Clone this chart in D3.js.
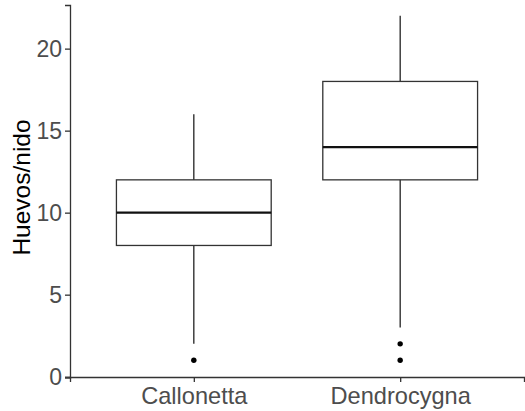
<!DOCTYPE html>
<html>
<head>
<meta charset="utf-8">
<script src="https://cdn.jsdelivr.net/npm/d3@7"></script>
<style>
  body { margin: 0; background: #fff; }
  svg { display: block; font-family: "Liberation Sans", Arial, sans-serif; }
</style>
</head>
<body>
<div id="chart"></div>
<script>
// data
const categories = ["Callonetta", "Dendrocygna"];
const lowerWhisker = [2, 3];
const q1 = [8, 12];
const median = [10, 14];
const q3 = [12, 18];
const upperWhisker = [16, 22];
const outliers = [[1], [2, 1]];
const yTicks = [0, 5, 10, 15, 20];
const yTitle = "Huevos/nido";

const width = 525, height = 411;
const margin = {top: 5, right: 1, bottom: 34, left: 70};

const svg = d3.select("#chart").append("svg")
    .attr("width", width)
    .attr("height", height);

const x = d3.scalePoint()
    .domain(categories)
    .range([margin.left, width - margin.right])
    .padding(0.6);
const boxWidth = x.step() * 0.75;

const y = d3.scaleLinear()
    .domain([-0.05, 22.66])
    .range([height - margin.bottom + 0.5, margin.top]);

const stats = categories.map((c, i) => ({
    key: c, lo: lowerWhisker[i], q1: q1[i], med: median[i], q3: q3[i], hi: upperWhisker[i], out: outliers[i]
}));

// axes
const gy = svg.append("g")
    .attr("transform", `translate(${margin.left},0)`)
    .call(d3.axisLeft(y).tickValues(yTicks).tickSize(5).tickPadding(3));
const gx = svg.append("g")
    .attr("transform", `translate(0,${height - margin.bottom})`)
    .call(d3.axisBottom(x).tickSize(5).tickPadding(5));

[gy, gx].forEach(g => {
    g.select(".domain").attr("stroke", "#333").attr("stroke-width", 1.3);
    g.selectAll(".tick line").attr("stroke", "#333").attr("stroke-width", 1.3);
    g.selectAll(".tick text")
        .attr("fill", "#4d4d4d")
        .style("font-family", "'Liberation Sans', Arial, sans-serif");
});
gy.selectAll(".tick text").style("font-size", "23px");
gx.selectAll(".tick text").style("font-size", "23.6px");

svg.append("text")
    .attr("transform", "translate(30,187.5) rotate(-90)")
    .attr("text-anchor", "middle")
    .style("font-size", "24.5px")
    .attr("fill", "#000")
    .text(yTitle);

// whiskers
svg.selectAll(".whisk")
    .data(stats)
    .enter().append("line")
    .attr("x1", d => x(d.key)).attr("x2", d => x(d.key))
    .attr("y1", d => y(d.lo)).attr("y2", d => y(d.hi))
    .attr("stroke", "#222").attr("stroke-width", 1.3);

// boxes
svg.selectAll(".box")
    .data(stats)
    .enter().append("rect")
    .attr("x", d => x(d.key) - boxWidth / 2)
    .attr("y", d => y(d.q3))
    .attr("width", boxWidth)
    .attr("height", d => y(d.q1) - y(d.q3))
    .attr("fill", "#fff")
    .attr("stroke", "#333").attr("stroke-width", 1.3);

// medians
svg.selectAll(".med")
    .data(stats)
    .enter().append("line")
    .attr("x1", d => x(d.key) - boxWidth / 2)
    .attr("x2", d => x(d.key) + boxWidth / 2)
    .attr("y1", d => y(d.med)).attr("y2", d => y(d.med))
    .attr("stroke", "#111").attr("stroke-width", 2.3);

// outliers
svg.selectAll(".out")
    .data(stats.flatMap(d => d.out.map(v => ({key: d.key, v}))))
    .enter().append("circle")
    .attr("cx", d => x(d.key))
    .attr("cy", d => y(d.v))
    .attr("r", 2.7)
    .attr("fill", "#000");
</script>
</body>
</html>
